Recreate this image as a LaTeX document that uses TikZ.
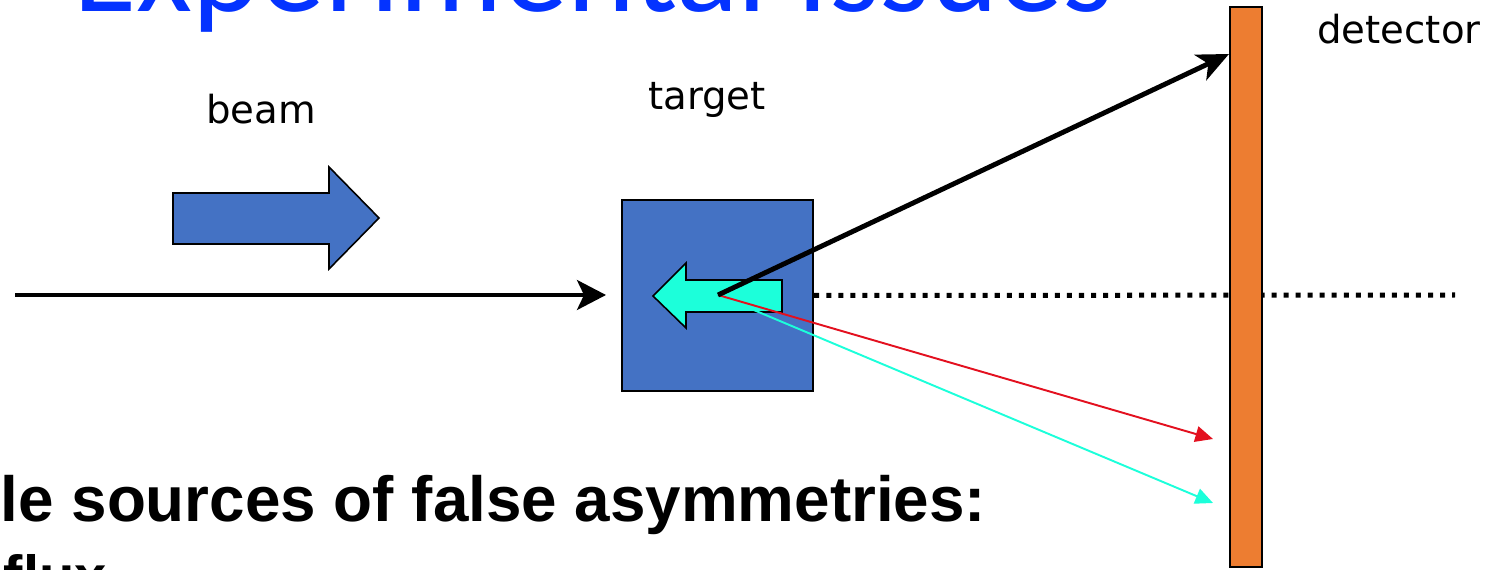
\documentclass[tikz,border=0pt]{standalone}
\usepackage{fontspec}
\setmainfont{DejaVu Sans}
\newfontfamily\titlefont{Carlito}
\newfontfamily\slidefont{Liberation Sans}
\usepackage{tikz}
\usetikzlibrary{arrows.meta}
\definecolor{boxblue}{HTML}{4472C4}
\definecolor{detorange}{HTML}{ED7D31}
\definecolor{aqua}{HTML}{1CFFDA}
\definecolor{scatred}{HTML}{E3101F}
\definecolor{titleblue}{HTML}{0433FF}
\tikzstyle{lbl}=[inner sep=0pt,font=\fontsize{22}{26}\selectfont]
\tikzstyle{slidetext}=[inner sep=0pt,anchor=base west,font=\slidefont\bfseries]
\tikzstyle{blockarrow}=[draw=black,line width=0.9pt,line join=miter]
\tikzstyle{thin ray}=[line width=1.1pt,-{Triangle[length=10pt,width=9pt]}]

\begin{document}
\begin{tikzpicture}[x=0.02cm,y=-0.02cm,thick]
    \useasboundingbox (0,0) rectangle (1488,570);
    \clip (0,0) rectangle (1488,570);
    \node [inner sep=0pt,anchor=base west,text=titleblue,font=\titlefont\fontsize{73.6}{80}\selectfont] (title) at (73,12) {Experimental Issues};
    % incoming beam
    \coordinate (src) at (15,295);
    \coordinate (hit) at (606,295);
    \draw [line width=2.3pt,-{Stealth[length=16.5pt,width=17pt,inset=4pt]}] (src) -- (hit);
    \draw [blockarrow,fill=boxblue] (173,193) -- (329,193) -- (329,167) -- (379,218) -- (329,269) -- (329,244) -- (173,244) -- cycle;
    \node [lbl,anchor=base] (beam) at (261,124) {beam};
    % target
    \node [draw=black,line width=1.4pt,fill=boxblue,minimum size=3.82cm,inner sep=0pt] (target) at (717.5,295.5) {};
    \node [lbl,anchor=base] (targetlbl) at (707,110) {target};
    \draw [blockarrow,fill=aqua] (653,296) -- (686,263) -- (686,280) -- (782,280) -- (782,312) -- (686,312) -- (686,328) -- cycle;
    % axis and scattered rays
    \coordinate (vtx) at (718,295);
    \coordinate (axisend) at (1455,295);
    \coordinate (hitA) at (1229,54);
    \coordinate (hitB) at (1213,439);
    \coordinate (hitC) at (1213,503);
    \draw [line width=2.85pt,dash pattern=on 2.85pt off 4pt] (target.east) -- (axisend);
    \draw [thin ray,aqua] (vtx) -- (hitC);
    \draw [thin ray,scatred] (vtx) -- (hitB);
    \draw [line width=2.8pt,-{Stealth[length=18pt,width=16pt,inset=5pt]}] (vtx) -- (hitA);
    % detector
    \node [draw=black,line width=1.2pt,fill=detorange,minimum width=0.64cm,minimum height=11.2cm,inner sep=0pt] (detector) at (1246,287) {};
    \node [lbl,anchor=base] (detlbl) at (1399,44) {detector};
    % text below
    \node [slidetext,font=\slidefont\bfseries\fontsize{36.3}{40}\selectfont] (sources) at (0,522) {le sources of false asymmetries:};
    \node [slidetext,font=\slidefont\bfseries\fontsize{33}{38}\selectfont] (flux) at (3,597) {flux};
\end{tikzpicture}
\end{document}
